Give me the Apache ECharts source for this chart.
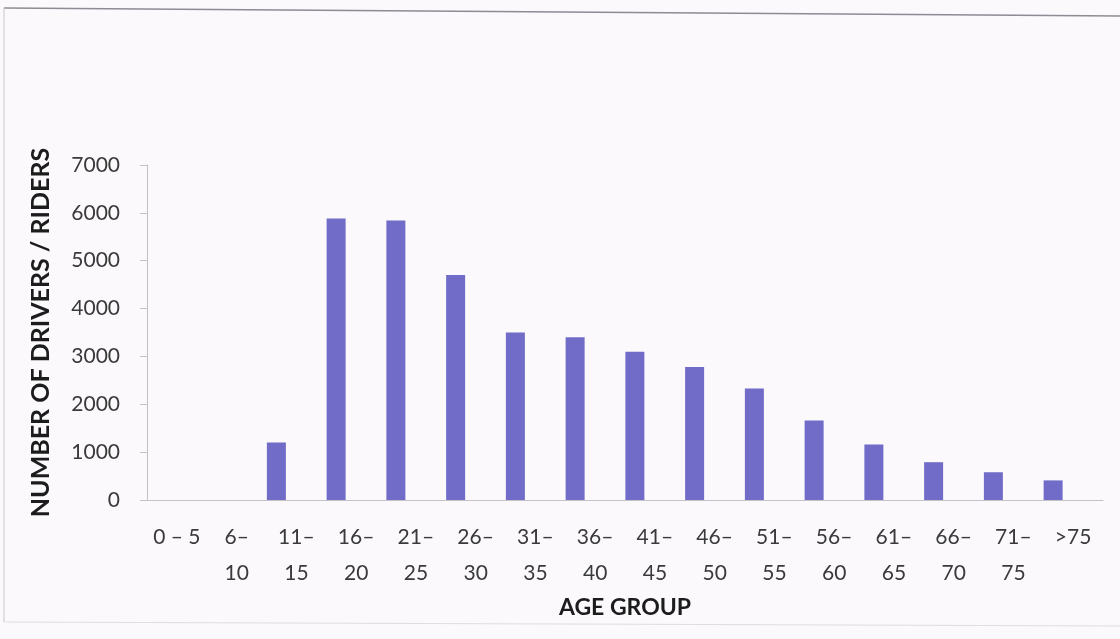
<!DOCTYPE html>
<html>
<head>
<meta charset="utf-8">
<title>Drivers / riders by age group</title>
<script src="https://cdn.jsdelivr.net/npm/echarts@6/dist/echarts.min.js"></script>
<style>
  html, body { margin: 0; padding: 0; background: #fbf9fc; }
  #chart { width: 1120px; height: 639px; }
</style>
</head>
<body>
<div id="chart"></div>
<script>
// Age groups on the category axis
const ageGroups = ['0 – 5', '6 – 10', '11 – 15', '16 – 20', '21 – 25', '26 – 30', '31 – 35',
  '36 – 40', '41 – 45', '46 – 50', '51 – 55', '56 – 60', '61 – 65', '66 – 70', '71 – 75', '>75'];

// Number of drivers / riders in each age group
const driverCounts = [0, 0, 1200, 5880, 5840, 4700, 3500, 3400, 3100, 2780, 2330, 1660, 1160, 790, 580, 410];

// Value axis ticks
const yTicks = [0, 1000, 2000, 3000, 4000, 5000, 6000, 7000];

const labelFont = 'Lato, "Open Sans", sans-serif';

const chart = echarts.init(document.getElementById('chart'));

chart.setOption({
  backgroundColor: '#fbf9fc',
  animation: false,
  grid: [
    // bars sit slightly left of the centre of each category slot
    { left: 127, right: 37, top: 165, bottom: 139 },
    // visible axes, labels and titles
    { left: 147, right: 17, top: 165, bottom: 139 }
  ],
  xAxis: [
    {
      gridIndex: 0, type: 'category', data: ageGroups,
      show: false
    },
    {
      gridIndex: 1, type: 'category', data: ageGroups,
      name: 'AGE GROUP', nameLocation: 'middle', nameGap: 96,
      nameTextStyle: { fontFamily: labelFont, fontWeight: 'bold', fontSize: 23, color: '#1c1c1c' },
      axisLine: { lineStyle: { color: '#c4c0c8', width: 1 } },
      axisTick: { show: false },
      axisLabel: {
        interval: 0, margin: 19,
        fontFamily: labelFont, fontSize: 21, lineHeight: 36, color: '#3a3a3a',
        formatter: (n) => n.length > 5 ? n.replace(' – ', '–\n') : n
      }
    }
  ],
  yAxis: [
    {
      gridIndex: 0, type: 'value', min: 0, max: 7000, interval: 1000,
      show: false
    },
    {
      gridIndex: 1, type: 'value', min: yTicks[0], max: yTicks[yTicks.length - 1], interval: 1000,
      name: 'NUMBER OF DRIVERS / RIDERS', nameLocation: 'middle', nameGap: 94,
      nameTextStyle: { fontFamily: labelFont, fontWeight: 'bold', fontSize: 25, color: '#1c1c1c' },
      axisLine: { show: true, lineStyle: { color: '#c4c0c8', width: 1 } },
      axisTick: { show: true, inside: false, length: 7, lineStyle: { color: '#c4c0c8' } },
      splitLine: { show: false },
      axisLabel: {
        margin: 27, fontFamily: labelFont, fontSize: 21, color: '#3a3a3a',
        formatter: (v) => String(v)
      }
    }
  ],
  series: [
    {
      type: 'bar', xAxisIndex: 0, yAxisIndex: 0,
      data: driverCounts,
      barWidth: 19,
      itemStyle: { color: '#706cc8' }
    }
  ],
  graphic: [
    // chart area frame
    { type: 'line', shape: { x1: 4, y1: 8, x2: 1120, y2: 16 }, style: { stroke: '#8f8a94', lineWidth: 1.5 } },
    { type: 'line', shape: { x1: 4, y1: 8, x2: 4, y2: 622 }, style: { stroke: '#c9c5cd', lineWidth: 1 } },
    { type: 'line', shape: { x1: 4, y1: 622, x2: 1120, y2: 626 }, style: { stroke: '#e0dce4', lineWidth: 1 } }
  ]
});
</script>
</body>
</html>
